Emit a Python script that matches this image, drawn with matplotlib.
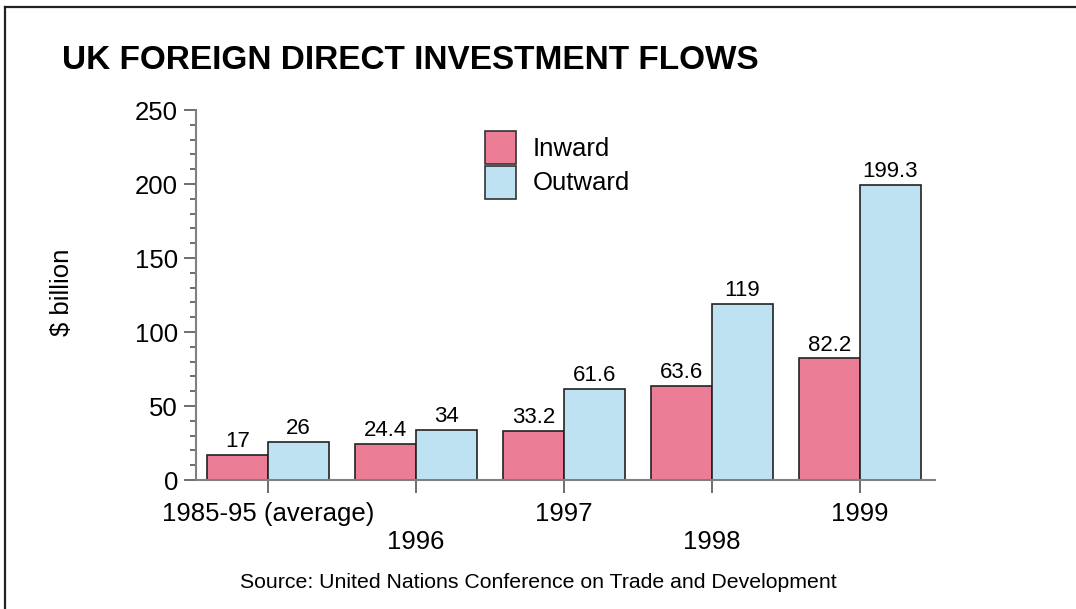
import matplotlib
matplotlib.use("Agg")
import matplotlib.pyplot as plt
from matplotlib.ticker import MultipleLocator
from matplotlib.lines import Line2D
import numpy as np

plt.rcParams['font.family'] = ['Liberation Sans', 'DejaVu Sans']

categories = ["1985-95 (average)", "1996", "1997", "1998", "1999"]
inward = [17, 24.4, 33.2, 63.6, 82.2]
outward = [26, 34, 61.6, 119, 199.3]
inward_labels = ["17", "24.4", "33.2", "63.6", "82.2"]
outward_labels = ["26", "34", "61.6", "119", "199.3"]

W, H = 1076, 609
fig = plt.figure(figsize=(W / 100, H / 100), dpi=100)
fig.patch.set_facecolor("white")

ax = fig.add_axes([196 / W, 1 - 480 / H, (935 - 196) / W, (480 - 110) / H])

pink = "#EC7D96"
blue = "#BEE2F2"
edge = "#222222"
bw = 0.412
x = np.arange(len(categories))

b1 = ax.bar(x - bw / 2, inward, bw, color=pink, edgecolor=edge, linewidth=1.2, label="Inward")
b2 = ax.bar(x + bw / 2, outward, bw, color=blue, edgecolor=edge, linewidth=1.2, label="Outward")

for rect, lab in zip(b1, inward_labels):
    ax.annotate(lab, (rect.get_x() + rect.get_width() / 2, rect.get_height()),
                xytext=(0, 2), textcoords="offset points", ha="center", va="bottom", fontsize=16)
for rect, lab in zip(b2, outward_labels):
    ax.annotate(lab, (rect.get_x() + rect.get_width() / 2, rect.get_height()),
                xytext=(0, 2), textcoords="offset points", ha="center", va="bottom", fontsize=16)

ax.set_xlim((196 - 268) / 148, (935 - 268) / 148)
ax.set_ylim(0, 250)
ax.yaxis.set_major_locator(MultipleLocator(50))
ax.yaxis.set_minor_locator(MultipleLocator(10))

ax.set_xticks(x)
ax.set_xticklabels([("\n" + c) if i % 2 == 1 else c for i, c in enumerate(categories)])

for s in ["top", "right"]:
    ax.spines[s].set_visible(False)
for s in ["left", "bottom"]:
    ax.spines[s].set_color("#808080")
    ax.spines[s].set_linewidth(1.5)

ax.tick_params(axis="y", which="major", direction="out", length=9, width=1.2, color="#555555",
               labelsize=18.5, pad=4)
ax.tick_params(axis="y", which="minor", direction="out", length=4.5, width=1.2, color="#555555")
ax.tick_params(axis="x", which="major", direction="out", length=9, width=1.2, color="#555555",
               labelsize=18.5, pad=7)

ax.set_ylabel("$ billion", fontsize=18.5)
ax.yaxis.set_label_coords((62 - 196) / 739, (480 - 292) / 370, transform=None)
ax.yaxis.label.set_transform(ax.transAxes)
ax.yaxis.label.set_va("center")
ax.yaxis.label.set_ha("center")

leg = ax.legend(handles=[b1, b2], labels=["Inward", "Outward"], fontsize=18.5, frameon=False,
                loc="upper left", bbox_to_anchor=(485 / W, 1 - 131 / H),
                bbox_transform=fig.transFigure, borderaxespad=0, borderpad=0,
                handlelength=1.2, handleheight=1.6, labelspacing=0.06, handletextpad=0.66)
for p in leg.get_patches():
    p.set_edgecolor("#333333")

fig.text(62 / W, 1 - 69 / H, "UK FOREIGN DIRECT INVESTMENT FLOWS", fontsize=24,
         fontweight="bold", ha="left", va="baseline")
fig.text(538 / W, 1 - 588 / H, "Source: United Nations Conference on Trade and Development",
         fontsize=15.3, ha="center", va="baseline")

# outer frame (top and left edges visible)
fig.add_artist(Line2D([5 / W, 1], [1 - 7 / H, 1 - 7 / H], transform=fig.transFigure,
                      color="#222222", linewidth=1.6))
fig.add_artist(Line2D([5 / W, 5 / W], [0, 1 - 7 / H], transform=fig.transFigure,
                      color="#222222", linewidth=1.6))

fig.savefig("out.png", dpi=100)
